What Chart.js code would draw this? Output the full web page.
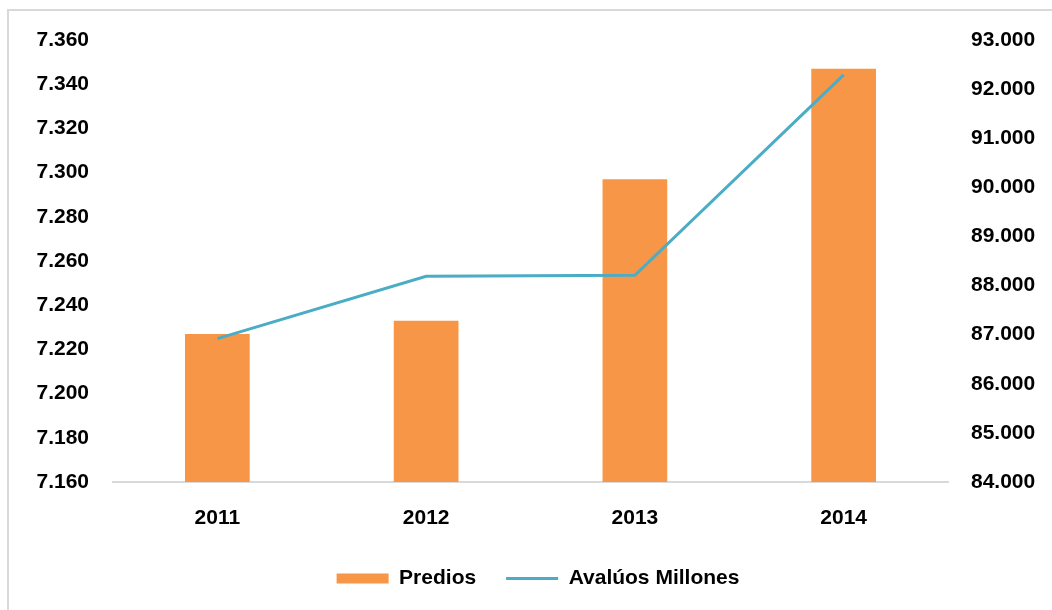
<!DOCTYPE html>
<html>
<head>
<meta charset="utf-8">
<script src="https://cdn.jsdelivr.net/npm/chart.js@4.4.1/dist/chart.umd.min.js"></script>
<style>
  html, body { margin:0; padding:0; background:#fff; overflow:hidden; }
  #frame { position:absolute; left:7px; top:9px; width:1200px; height:800px; border:2px solid #d9d9d9; }
  #wrap { position:absolute; left:0; top:0; width:1052px; height:610px; }
</style>
</head>
<body>
<div id="frame"></div>
<div id="wrap"><canvas id="chart" width="1052" height="610"></canvas></div>
<script>
const YEARS   = ['2011', '2012', '2013', '2014'];
const PREDIOS = [7227, 7233, 7297, 7347];
const AVALUOS = [86920, 88190, 88210, 92290];

const fmt = v => String(Math.round(v)).replace(/\B(?=(\d{3})+(?!\d))/g, '.');
const FONT = { family:'"Liberation Sans", Arial, sans-serif', size:21, weight:'bold' };

// legend in the original sits a little right of centre
const legendShift = {
  id:'legendShift',
  afterUpdate(chart) {
    const lg = chart.legend;
    if (!lg) return;
    lg.left += 12; lg.right += 12;
    lg.adjustHitBoxes();
  }
};

new Chart(document.getElementById('chart'), {
  type:'bar',
  data:{ labels:YEARS, datasets:[
    { label:'Predios', data:PREDIOS, backgroundColor:'#f79646', yAxisID:'y',
      barPercentage:0.31, categoryPercentage:1, pointStyle:'rect', order:2 },
    { label:'Avalúos Millones', data:AVALUOS, type:'line', borderColor:'#4bacc6',
      backgroundColor:'#4bacc6', borderWidth:3, pointRadius:0, tension:0,
      yAxisID:'y1', pointStyle:'line', order:1 }
  ]},
  options:{
    responsive:false, animation:false,
    layout:{ padding:{ top:40, left:0, right:0, bottom:11 } },
    plugins:{
      tooltip:{ enabled:false },
      legend:{ position:'bottom',
        labels:{ usePointStyle:true, pointStyleWidth:52, boxHeight:10, padding:30,
                 color:'#000', font:FONT, sort:(a, b) => a.datasetIndex - b.datasetIndex } }
    },
    scales:{
      x:{ grid:{ display:false, drawTicks:false },
          border:{ display:true, color:'#d9d9d9', width:2 },
          ticks:{ color:'#000', font:FONT, padding:24 },
          afterFit:s => { s.height = 56; } },
      y:{ position:'left', min:7160, max:7360,
          grid:{ display:false, drawTicks:false }, border:{ display:false },
          ticks:{ stepSize:20, color:'#000', font:FONT, padding:24, callback:fmt },
          afterFit:s => { s.width = 113; } },
      y1:{ position:'right', min:84000, max:93000,
          grid:{ display:false, drawTicks:false }, border:{ display:false },
          ticks:{ stepSize:1000, color:'#000', font:FONT, padding:23, callback:fmt },
          afterFit:s => { s.width = 104; } }
    }
  },
  plugins:[legendShift]
});
</script>
</body>
</html>
